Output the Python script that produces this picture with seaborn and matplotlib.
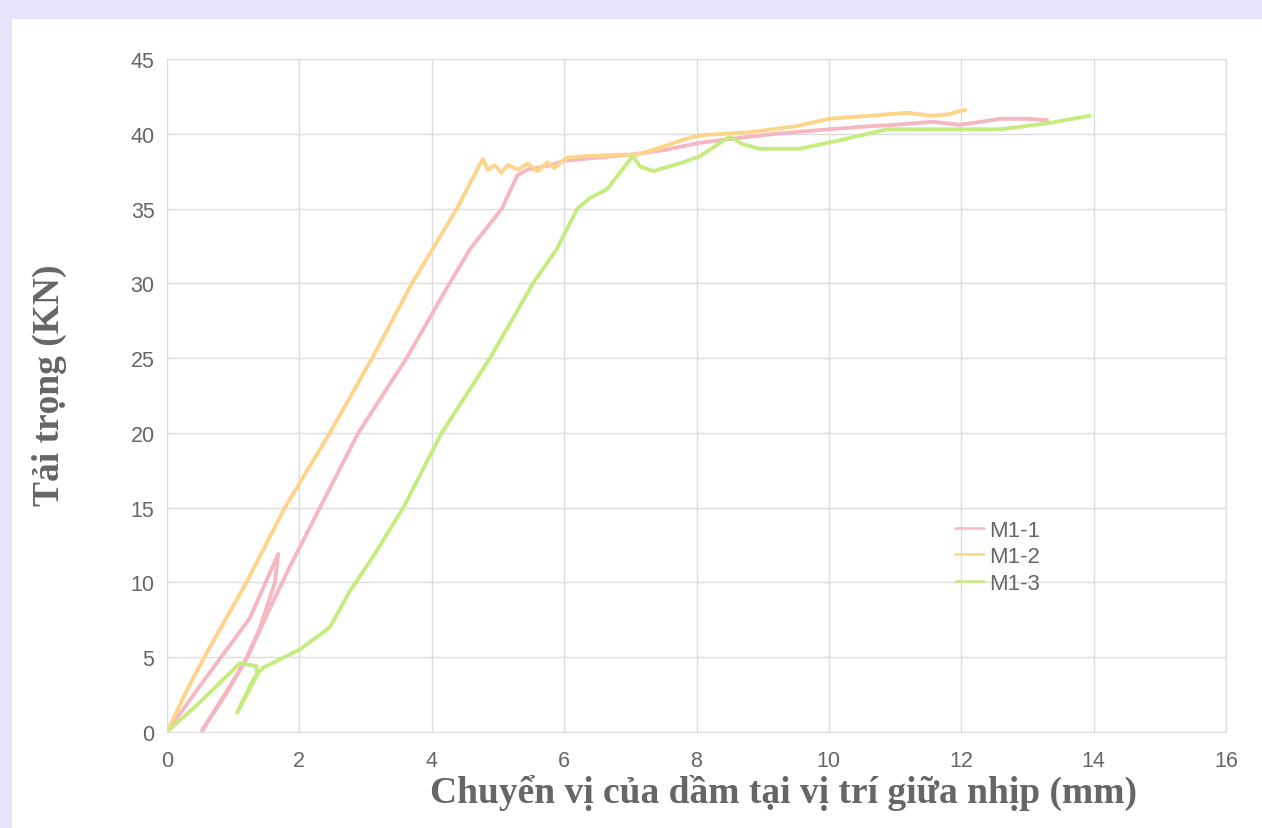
import numpy as np
import pandas as pd
import matplotlib
matplotlib.use("Agg")
import matplotlib.pyplot as plt
import seaborn as sns
from matplotlib.patches import Rectangle

# M1-1 (loads, unloads, reloads)
m11_x = [0, 0.5, 1.25, 1.68, 1.63, 1.4, 1.2, 0.9, 0.53, 0.9, 1.2, 1.6, 1.86, 1.93,
         2.31, 2.89, 3.62, 4.27, 4.58, 5.06, 5.29, 5.44, 5.8, 6.0, 6.5, 7.0, 7.5,
         8.05, 8.6, 9.2, 10.0, 10.6, 11.0, 11.57, 11.98, 12.3, 12.58, 13.0, 13.3]
m11_y = [0, 3.1, 7.6, 11.9, 10.0, 6.9, 4.9, 2.6, 0.1, 2.7, 4.9, 8.7, 11.1, 11.7,
         15.0, 20.0, 25.0, 30.0, 32.3, 35.0, 37.2, 37.6, 37.9, 38.2, 38.4, 38.6, 38.9,
         39.4, 39.7, 40.0, 40.3, 40.5, 40.6, 40.8, 40.6, 40.8, 41.0, 41.0, 40.9]

# M1-2
m12_x = [0, 0.3, 0.6, 1.2, 1.78, 2.46, 3.1, 3.7, 4.38, 4.77, 4.85, 4.95, 5.05, 5.15,
         5.3, 5.45, 5.6, 5.75, 5.85, 6.04, 6.3, 6.8, 7.1, 7.4, 7.8, 8.05, 8.8, 9.5,
         10.0, 10.6, 11.18, 11.57, 11.8, 12.06]
m12_y = [0, 2.8, 5.3, 10.0, 15.0, 20.0, 25.0, 30.0, 35.0, 38.3, 37.6, 37.9, 37.4, 37.9,
         37.6, 38.0, 37.5, 38.1, 37.7, 38.4, 38.5, 38.6, 38.6, 39.0, 39.6, 39.9, 40.1, 40.5,
         41.0, 41.2, 41.4, 41.2, 41.3, 41.6]

# M1-3
m13_x = [0, 0.5, 1.1, 1.35, 1.36, 1.06, 1.3, 1.45, 2.0, 2.46, 2.76, 3.11, 3.57, 4.15,
         4.88, 5.53, 5.89, 6.2, 6.39, 6.65, 7.0, 7.04, 7.15, 7.35, 7.8, 8.05, 8.5,
         8.7, 8.96, 9.56, 10.2, 10.88, 12.6, 13.3, 13.94]
m13_y = [0, 2.0, 4.6, 4.4, 3.8, 1.3, 3.5, 4.3, 5.5, 7.0, 9.4, 11.7, 15.0, 20.0,
         25.0, 30.0, 32.3, 35.0, 35.7, 36.3, 38.3, 38.5, 37.8, 37.5, 38.1, 38.5, 39.8,
         39.3, 39.0, 39.0, 39.6, 40.3, 40.3, 40.7, 41.2]

labels = ["M1-1", "M1-2", "M1-3"]
colors = ["#f5b8c2", "#fdd589", "#c6ec80"]

df = pd.concat([
    pd.DataFrame({"x": m11_x, "y": m11_y, "Mẫu": labels[0]}),
    pd.DataFrame({"x": m12_x, "y": m12_y, "Mẫu": labels[1]}),
    pd.DataFrame({"x": m13_x, "y": m13_y, "Mẫu": labels[2]}),
], ignore_index=True)

sns.set_style("white")

fig = plt.figure(figsize=(12.62, 8.29), dpi=100, facecolor="#e7e5fb")
bg = Rectangle((12 / 1262, 0), 1, 1 - 20 / 829, transform=fig.transFigure,
               facecolor="white", edgecolor="none", zorder=-10)
fig.add_artist(bg)
ax = fig.add_axes([167 / 1262, 96 / 829, 1059 / 1262, 673 / 829])
ax.set_zorder(1)
ax.set_facecolor("white")

sns.lineplot(data=df, x="x", y="y", hue="Mẫu", palette=colors, sort=False,
             estimator=None, linewidth=2.8, ax=ax)

ax.set_xlim(0, 16)
ax.set_ylim(0, 45)
ax.set_xticks(range(0, 17, 2))
ax.set_yticks(range(0, 46, 5))
ax.grid(True, color="#dcdcdc", linewidth=1)
for s in ax.spines.values():
    s.set_color("#dcdcdc")
ax.tick_params(length=0, labelsize=15.5, labelcolor="#666666")
ax.tick_params(axis="x", pad=13)
ax.tick_params(axis="y", pad=9)
for t in ax.get_xticklabels() + ax.get_yticklabels():
    t.set_family("Liberation Sans")

ax.set_xlabel("Chuyển vị của dầm tại vị trí giữa nhịp (mm)", family="Liberation Serif",
              fontweight="bold", fontsize=27, color="#666666")
ax.xaxis.set_label_coords(0.582, -0.062)
ax.set_ylabel("Tải trọng (KN)", family="Liberation Serif", fontweight="bold",
              fontsize=27, color="#666666")
ax.yaxis.set_label_coords(-0.094, 0.517)

leg = ax.legend(loc="upper left", bbox_to_anchor=(0.734, 0.332), frameon=False,
                handlelength=1.3, handletextpad=0.2, labelspacing=0.25,
                prop={"family": "Liberation Sans", "size": 16}, borderpad=0)
for line in leg.get_lines():
    line.set_linewidth(1.8)
for t in leg.get_texts():
    t.set_color("#666666")

plt.savefig("out.png", dpi=100, facecolor=fig.get_facecolor())
